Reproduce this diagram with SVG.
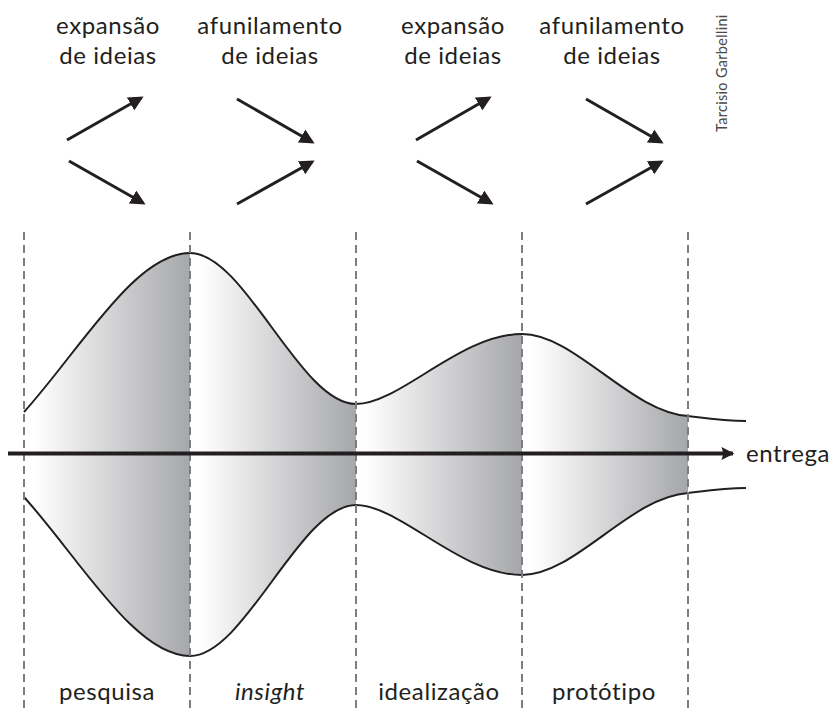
<svg xmlns="http://www.w3.org/2000/svg" width="838" height="708" viewBox="0 0 838 708">
<style>
.t{font-family:Lato,"Noto Sans","Liberation Sans",sans-serif;font-size:24px;letter-spacing:0.6px;fill:#231f20;text-anchor:middle}
.dash{stroke:#7d7d7f;stroke-width:2;stroke-dasharray:8 5;fill:none}
.curve{stroke:#231f20;stroke-width:2;fill:none}
.arr{stroke:#231f20;stroke-width:3;fill:none;marker-end:url(#ah)}
</style>
<defs>
<linearGradient id="g" x1="0" y1="0" x2="1" y2="0">
<stop offset="0.06" stop-color="#ffffff"/>
<stop offset="1" stop-color="#a6a7aa"/>
</linearGradient>
<marker id="ah" viewBox="0 0 10 10" refX="8" refY="5" markerWidth="5" markerHeight="5" orient="auto" markerUnits="strokeWidth">
<path d="M0,0 L10,5 L0,10 Z" fill="#231f20"/>
</marker>
<marker id="ah2" viewBox="0 0 10 10" refX="9" refY="5" markerWidth="3.4" markerHeight="3.2" orient="auto" markerUnits="strokeWidth">
<path d="M0,0 L10,5 L0,10 L1.5,5 Z" fill="#231f20"/>
</marker>
</defs>
<rect width="838" height="708" fill="#ffffff"/>

<g id="fills">
<path d="M24,412 C80,350 135,253 190,253 L190,656 C135,656 80,559 24,497 Z" fill="url(#g)"/>
<path d="M190,253 C245,253 300,404 356,404 L356,505 C300,505 245,656 190,656 Z" fill="url(#g)"/>
<path d="M356,404 C400,404 460,334 522,334 L522,575 C460,575 400,505 356,505 Z" fill="url(#g)"/>
<path d="M522,334 C575,334 630,412 688,416 L688,493 C630,497 575,575 522,575 Z" fill="url(#g)"/>
</g>

<g id="curves">
<path class="curve" d="M24,412 C80,350 135,253 190,253 C245,253 300,404 356,404 C400,404 460,334 522,334 C575,334 630,412 688,416 C712,419 725,421 746,421"/>
<path class="curve" d="M24,497 C80,559 135,656 190,656 C245,656 300,505 356,505 C400,505 460,575 522,575 C575,575 630,497 688,493 C712,490 725,488 746,488"/>
</g>

<g id="dividers">
<line class="dash" x1="24" y1="232" x2="24" y2="708"/>
<line class="dash" x1="190" y1="232" x2="190" y2="708"/>
<line class="dash" x1="356" y1="232" x2="356" y2="708"/>
<line class="dash" x1="522" y1="232" x2="522" y2="708"/>
<line class="dash" x1="688" y1="232" x2="688" y2="708"/>
</g>

<g id="connectors">
<line x1="8" y1="453.5" x2="733" y2="453.5" stroke="#231f20" stroke-width="4" marker-end="url(#ah2)"/>
<line class="arr" x1="67" y1="140" x2="141" y2="98"/>
<line class="arr" x1="69" y1="161" x2="143" y2="203"/>
<line class="arr" x1="237" y1="99" x2="312" y2="142"/>
<line class="arr" x1="237" y1="204" x2="312" y2="162"/>
<line class="arr" x1="416" y1="140" x2="489" y2="98"/>
<line class="arr" x1="417" y1="161" x2="491" y2="203"/>
<line class="arr" x1="586" y1="99" x2="661" y2="142"/>
<line class="arr" x1="586" y1="204" x2="661" y2="162"/>
</g>

<g id="top-labels">
<g id="label-exp1"><text class="t" x="108" y="34">expansão</text><text class="t" x="108" y="64">de ideias</text></g>
<g id="label-afu1"><text class="t" x="270" y="34">afunilamento</text><text class="t" x="270" y="64">de ideias</text></g>
<g id="label-exp2"><text class="t" x="453" y="34">expansão</text><text class="t" x="453" y="64">de ideias</text></g>
<g id="label-afu2"><text class="t" x="612" y="34">afunilamento</text><text class="t" x="612" y="64">de ideias</text></g>
</g>

<g id="phase-labels">
<g id="pesquisa"><text class="t" x="107" y="700">pesquisa</text></g>
<g id="insight"><text class="t" x="270" y="700" font-style="italic">insight</text></g>
<g id="idealizacao"><text class="t" x="439" y="700">idealização</text></g>
<g id="prototipo"><text class="t" x="604" y="700">protótipo</text></g>
</g>

<g id="entrega"><text class="t" x="746" y="462" style="text-anchor:start">entrega</text></g>

<text transform="translate(727,132) rotate(-90)" font-family="Lato,'Noto Sans','Liberation Sans',sans-serif" font-size="14.5" letter-spacing="0.3" fill="#4a4a4a">Tarcisio Garbellini</text>
</svg>
